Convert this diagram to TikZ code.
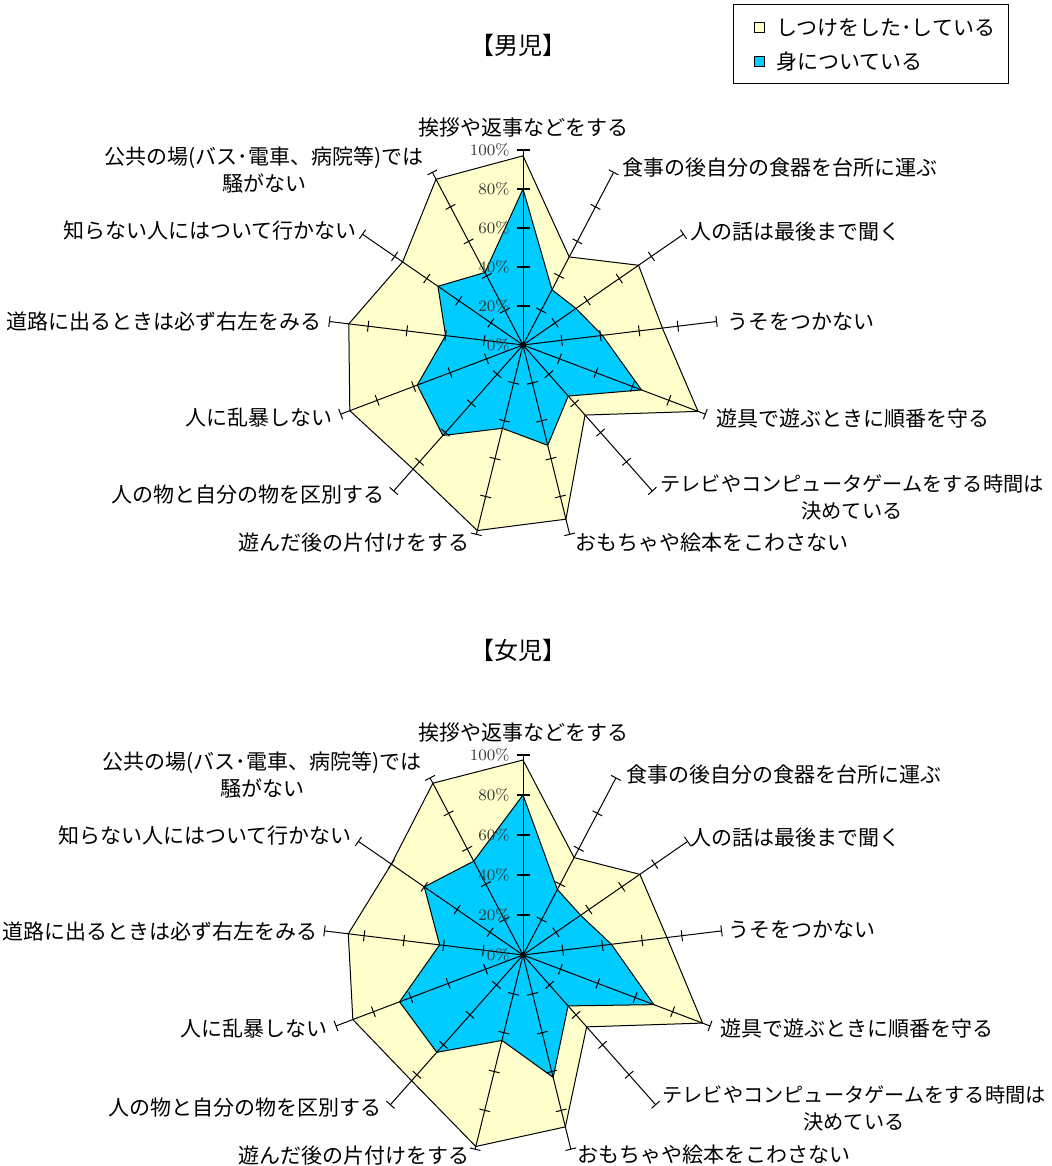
\documentclass[tikz,border=0pt]{standalone}
\usepackage{fontspec}
\newfontfamily\jp{Noto Sans CJK JP}
\definecolor{yfill}{HTML}{FFFFCC}
\definecolor{bfill}{HTML}{00CCFF}
\definecolor{pctgray}{HTML}{383838}
\tikzset{
  lbl/.style={font=\jp\fontsize{10.5}{13.5}\selectfont, inner sep=0pt, align=center},
  ttl/.style={font=\jp\fontsize{12}{14}\selectfont, inner sep=0pt},
  pct/.style={font=\fontsize{8}{9}\selectfont, text=pctgray, inner sep=0pt, anchor=east},
  axisline/.style={line width=0.5pt},
  polyline/.style={line width=0.5pt, draw=black},
}
\newcommand\myradar[6]{%
  % #1 cx, #2 cy, #3 R, #4 yellow list, #5 blue list, #6 prefix
  \begin{scope}[shift={(#1,#2)}, yscale=-1]
    \coordinate (#6c) at (0,0);
    \foreach \v [count=\i from 0] in {#4}
      \coordinate (#6y\i) at ({90-\i*360/13}:{#3/100*\v});
    \foreach \v [count=\i from 0] in {#5}
      \coordinate (#6b\i) at ({90-\i*360/13}:{#3/100*\v});
    \filldraw[polyline, fill=yfill] (#6y0) \foreach \i in {1,...,12}{ -- (#6y\i)} -- cycle;
    \filldraw[polyline, fill=bfill] (#6b0) \foreach \i in {1,...,12}{ -- (#6b\i)} -- cycle;
    \foreach \i in {0,...,12}{
      \pgfmathsetmacro\lw{ifthenelse(\i==0,0.9,0.5)}
      \pgfmathsetmacro\tl{ifthenelse(\i==0,6.5,5.5)}
      \coordinate (#6a\i) at ({90-\i*360/13}:#3);
      \draw[axisline] (#6c) -- (#6a\i);
      \begin{scope}[rotate={\i*360/13-90}]
        \foreach \p in {1,...,5}
          \draw[line width=\lw pt] ({#3/5*\p},-\tl) -- ({#3/5*\p},\tl);
      \end{scope}
    }
    \fill (#6c) circle (3);
    \foreach \k [count=\j from 0] in {0,20,40,60,80,100}
      \node[pct] (#6p\j) at (-13,{#3/5*\j}) {\k\%};
  \end{scope}
}
\begin{document}
\begin{tikzpicture}[x=0.5pt,y=-0.5pt]
\useasboundingbox (0,0) rectangle (1051,1166);

% legend
\draw[line width=0.5pt] (733,5) rectangle (1008,84);
\filldraw[line width=0.5pt, fill=yfill] (754,23) rectangle (764,33);
\filldraw[line width=0.5pt, fill=bfill] (754,57) rectangle (764,67);
\node[lbl, anchor=west] (leg1) at (776,28) {しつけをした･している};
\node[lbl, anchor=west] (leg2) at (776,62) {身についている};

% titles
\node[ttl] (t1) at (518,45) {【男児】};
\node[ttl] (t2) at (518,650) {【女児】};

% top chart
\myradar{523}{345}{195}{97,51,72,72,96,48,92,98,85,95,90,75,96}{80,32,33,41,65,35,53,44,62,58,40,53,42}{m}
\node[lbl] (ml0) at (523,128) {挨拶や返事などをする};
\node[lbl, anchor=west] (ml1) at (622,168) {食事の後自分の食器を台所に運ぶ};
\node[lbl, anchor=west] (ml2) at (690,232) {人の話は最後まで聞く};
\node[lbl, anchor=west] (ml3) at (727,322) {うそをつかない};
\node[lbl, anchor=west] (ml4) at (716,418) {遊具で遊ぶときに順番を守る};
\node[lbl, font=\jp\fontsize{10.1}{13.5}\selectfont] (ml5) at (852,497) {テレビやコンピュータゲームをする時間は\\決めている};
\node[lbl, anchor=west] (ml6) at (575,543) {おもちゃや絵本をこわさない};
\node[lbl, anchor=east] (ml7) at (470,543) {遊んだ後の片付けをする};
\node[lbl, anchor=east] (ml8) at (385,495) {人の物と自分の物を区別する};
\node[lbl, anchor=east] (ml9) at (333,418) {人に乱暴しない};
\node[lbl, anchor=east] (ml10) at (322,322) {道路に出るときは必ず右左をみる};
\node[lbl, anchor=east] (ml11) at (357,231) {知らない人にはついて行かない};
\node[lbl] (ml12) at (264,170) {公共の場(バス･電車、病院等)では\\騒がない};

% bottom chart
\myradar{523}{955}{200}{97.5,55,71,72.5,96,48,88.5,98.6,84,91,88,80,97}{80,37,35,44.5,70,34,63,44,65,66,42,60,53}{f}
\node[lbl] (fl0) at (523,733) {挨拶や返事などをする};
\node[lbl, anchor=west] (fl1) at (626,775) {食事の後自分の食器を台所に運ぶ};
\node[lbl, anchor=west] (fl2) at (690,838) {人の話は最後まで聞く};
\node[lbl, anchor=west] (fl3) at (728,930) {うそをつかない};
\node[lbl, anchor=west] (fl4) at (720,1028) {遊具で遊ぶときに順番を守る};
\node[lbl, font=\jp\fontsize{10.1}{13.5}\selectfont] (fl5) at (854,1108) {テレビやコンピュータゲームをする時間は\\決めている};
\node[lbl, anchor=west] (fl6) at (577,1155) {おもちゃや絵本をこわさない};
\node[lbl, anchor=east] (fl7) at (470,1155) {遊んだ後の片付けをする};
\node[lbl, anchor=east] (fl8) at (382,1108) {人の物と自分の物を区別する};
\node[lbl, anchor=east] (fl9) at (328,1029) {人に乱暴しない};
\node[lbl, anchor=east] (fl10) at (318,932) {道路に出るときは必ず右左をみる};
\node[lbl, anchor=east] (fl11) at (352,836) {知らない人にはついて行かない};
\node[lbl] (fl12) at (262,775) {公共の場(バス･電車、病院等)では\\騒がない};
\end{tikzpicture}
\end{document}
